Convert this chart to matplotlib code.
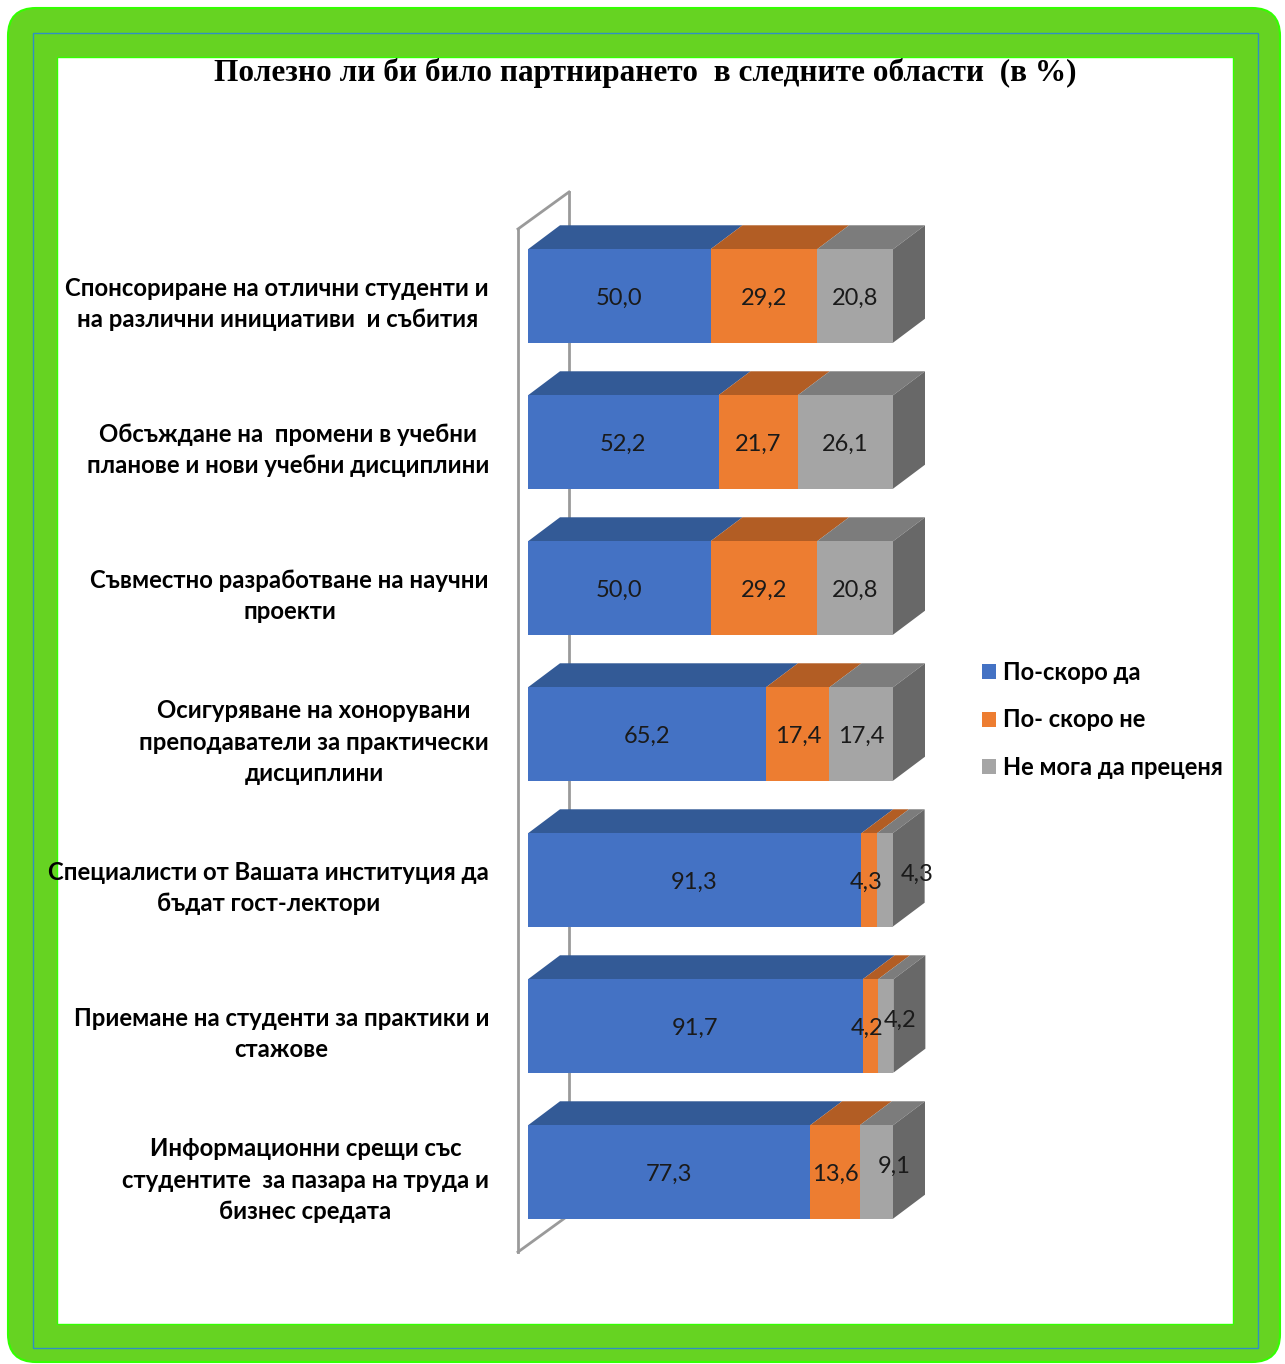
import matplotlib.pyplot as plt
from matplotlib.patches import FancyBboxPatch, Rectangle, Polygon, Patch
import numpy as np

# Категории (отгоре надолу) и стойности в %
categories = [
    "Спонсориране на отлични студенти и\nна различни инициативи  и събития",
    "Обсъждане на  промени в учебни\nпланове и нови учебни дисциплини",
    "Съвместно разработване на научни\nпроекти",
    "Осигуряване на хонорувани\nпреподаватели за практически\nдисциплини",
    "Специалисти от Вашата институция да\nбъдат гост-лектори",
    "Приемане на студенти за практики и\nстажове",
    "Информационни срещи със\nстудентите  за пазара на труда и\nбизнес средата",
]
po_skoro_da = [50.0, 52.2, 50.0, 65.2, 91.3, 91.7, 77.3]
po_skoro_ne = [29.2, 21.7, 29.2, 17.4, 4.3, 4.2, 13.6]
ne_moga = [20.8, 26.1, 20.8, 17.4, 4.3, 4.2, 9.1]
series_names = ["По-скоро да", "По- скоро не", "Не мога да преценя"]

TITLE = "Полезно ли би било партнирането  в следните области  (в %)"

# цветове: лице, горна страна
front = ["#4472c4", "#ed7d31", "#a5a5a5"]
top = ["#335a96", "#b25d24", "#7c7c7c"]
side = "#686868"

W, H = 1285, 1364
fig = plt.figure(figsize=(W / 100, H / 100), dpi=100)

# --- рамка ---
bg = fig.add_axes([0, 0, 1, 1])
bg.set_xlim(0, W)
bg.set_ylim(H, 0)
bg.axis("off")
bg.add_patch(FancyBboxPatch((8, 8), 1272, 1354, boxstyle="round,pad=0,rounding_size=28",
                            facecolor="#66d322", edgecolor="#33ff00", lw=1.5))
bg.add_patch(Rectangle((33, 33), 1225, 1315, facecolor="none", edgecolor="#2f8fc4", lw=1))
bg.add_patch(Rectangle((57, 57), 1176, 1267, facecolor="white", edgecolor="#33ff00", lw=1))

# --- основна ос: 0..100 % по x, категории по y ---
x0_px, x1_px = 528, 893
y_top_px, y_bot_px = 193, 1260
ax = fig.add_axes([x0_px / W, 1 - y_bot_px / H, (x1_px - x0_px) / W, (y_bot_px - y_top_px) / H])
px_x = (x1_px - x0_px) / 100.0       # пиксела за 1 %
px_y = 146.0                         # пиксела между категориите
c0 = 296.0                           # център на първата лента
ax.set_xlim(0, 100)
ax.set_ylim((y_bot_px - c0) / px_y, (y_top_px - c0) / px_y)
ax.axis("off")

y = np.arange(len(categories))
bar_h = 0.64
dx = 32 / px_x
dy = -24 / px_y

# задна стена
wall_c = "#9a9a9a"
wf, wb = -10 / px_x, 41 / px_x
wt_f, wt_b = (229 - c0) / px_y, (192 - c0) / px_y
wb_f, wb_b = (1252 - c0) / px_y, (1215 - c0) / px_y
ax.plot([wb, wb], [wt_b, wb_b], color=wall_c, lw=2, zorder=0, clip_on=False)
ax.plot([wf, wb], [wt_f, wt_b], color=wall_c, lw=2, zorder=0, clip_on=False)
ax.plot([wf, wb], [wb_f, wb_b], color=wall_c, lw=2, zorder=0, clip_on=False)
ax.plot([wf, wf], [wt_f, wb_f], color=wall_c, lw=2, zorder=5, clip_on=False)

data = [po_skoro_da, po_skoro_ne, ne_moga]
left = np.zeros(len(categories))
for j, vals in enumerate(data):
    vals = np.array(vals)
    ax.barh(y, vals, left=left, height=bar_h, color=front[j], zorder=3, clip_on=False)
    for i in range(len(y)):
        yt = y[i] - bar_h / 2
        a, b = left[i], left[i] + vals[i]
        ax.add_patch(Polygon([(a, yt), (b, yt), (b + dx, yt + dy), (a + dx, yt + dy)],
                             closed=True, facecolor=top[j], edgecolor="none", zorder=2, clip_on=False))
    left = left + vals

# дясна страна на лентите
for i in range(len(y)):
    yt, yb = y[i] - bar_h / 2, y[i] + bar_h / 2
    e = left[i]
    ax.add_patch(Polygon([(e, yt), (e, yb), (e + dx, yb + dy), (e + dx, yt + dy)],
                         closed=True, facecolor=side, edgecolor="none", zorder=2, clip_on=False))

# стойности върху лентите
nudge = {(4, 2): (9.0, -0.055), (5, 2): (4.0, -0.055), (6, 2): (5.0, -0.05),
         (4, 1): (-0.8, 0.0), (5, 1): (-0.8, 0.0)}
left = np.zeros(len(categories))
for j, vals in enumerate(data):
    for i, v in enumerate(vals):
        ox, oy = nudge.get((i, j), (0, 0))
        ax.text(left[i] + v / 2 + ox, y[i] + 2 / px_y + oy, f"{v:.1f}".replace(".", ","),
                ha="center", va="center", fontsize=17, family="Lato",
                color="#1a1a1a", zorder=6, clip_on=False)
    left = left + np.array(vals)

# имена на категориите
for i, cat in enumerate(categories):
    ax.text((489 - x0_px) / px_x, y[i] + 8 / px_y, cat, ha="right", va="center",
            multialignment="center", fontsize=17.2, fontweight="bold", family="Lato",
            linespacing=1.45, color="black", clip_on=False)

# заглавие
fig.text(645 / W, 1 - 73 / H, TITLE, ha="center", va="center",
         fontsize=22.5, fontweight="bold", family="Liberation Serif")

# легенда
handles = [Patch(facecolor=front[k]) for k in range(3)]
fig.legend(handles, series_names, loc="center left",
           bbox_to_anchor=(982 / W, 1 - 720 / H), frameon=False,
           prop={"family": "Lato", "weight": "bold", "size": 17},
           handlelength=0.6, handleheight=0.6, handletextpad=0.3,
           labelspacing=1.05, borderpad=0, borderaxespad=0)

fig.savefig("out.png", dpi=100)
